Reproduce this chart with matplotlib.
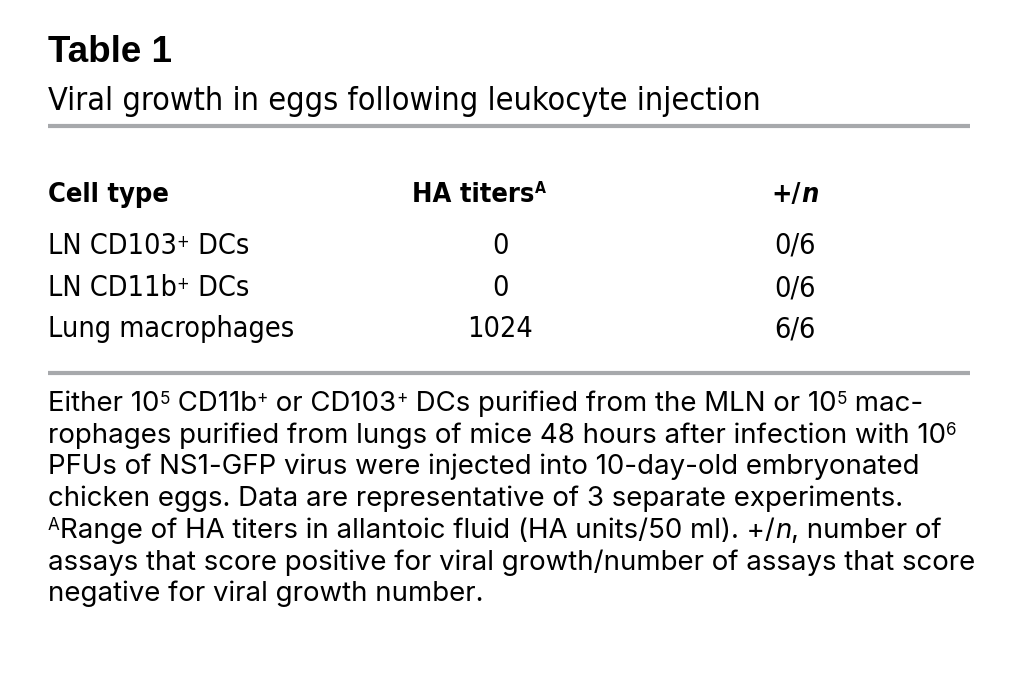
import matplotlib
matplotlib.use("Agg")
import matplotlib.pyplot as plt
from matplotlib.lines import Line2D
from matplotlib import font_manager
from matplotlib.font_manager import FontProperties

# ---- data ----
title = "Table 1"
subtitle = "Viral growth in eggs following leukocyte injection"
col_headers = ["Cell type", "HA titers", "+/"]
cell_base = ["LN CD103", "LN CD11b", "Lung macrophages"]
cell_sup = ["+", "+", ""]
cell_tail = [" DCs", " DCs", ""]
ha_titers = ["0", "0", "1024"]
pos_n = ["0/6", "0/6", "6/6"]
# footnote lines as runs: (text, kind) kind: n normal, s superscript, i italic
footnote_lines = [
    [("Either 10", "n"), ("5", "s"), (" CD11b", "n"), ("+", "s"), (" or CD103", "n"), ("+", "s"),
     (" DCs purified from the MLN or 10", "n"), ("5", "s"), (" mac-", "n")],
    [("rophages purified from lungs of mice 48 hours after infection with 10", "n"), ("6", "s")],
    [("PFUs of NS1-GFP virus were injected into 10-day-old embryonated", "n")],
    [("chicken eggs. Data are representative of 3 separate experiments.", "n")],
    [("A", "s"), ("Range of HA titers in allantoic fluid (HA units/50 ml). +/", "n"), ("n", "i"),
     (", number of", "n")],
    [("assays that score positive for viral growth/number of assays that score", "n")],
    [("negative for viral growth number.", "n")],
]

# ---- fonts ----
def find_condensed(weight_bold, italic=False):
    best = None
    for f in font_manager.fontManager.ttflist:
        tag = (f.name + " " + f.fname).lower()
        cond = ("condensed" in tag or "narrow" in tag or
                str(f.stretch) in ("condensed", "semi-condensed", "extra-condensed"))
        if not cond:
            continue
        w = f.weight if isinstance(f.weight, int) else (700 if "bold" in str(f.weight) else 400)
        is_bold = w >= 600
        is_it = f.style != "normal"
        if is_bold != weight_bold or is_it != italic:
            continue
        if "light" in tag or "black" in tag or "mono" in tag or "serif" in tag.replace("sans", ""):
            continue
        score = 0 if ("sans" in tag) else 1
        if best is None or score < best[0]:
            best = (score, f.fname)
    return best[1] if best else None


def fp_cond(size, bold=False, italic=False):
    path = find_condensed(bold, italic)
    if path:
        return FontProperties(fname=path, size=size)
    return FontProperties(family="Roboto", weight="bold" if bold else "normal",
                          style="italic" if italic else "normal", size=size * 0.93)


names = {f.name for f in font_manager.fontManager.ttflist}
FOOT_FAMILY = "Inter" if "Inter" in names else "Liberation Sans"

W, H = 1018, 682
fig = plt.figure(figsize=(W / 100, H / 100), dpi=100)
fig.patch.set_facecolor("white")
renderer = fig.canvas.get_renderer()


def fx(x):
    return x / W


def fy(y):
    return 1 - y / H


def width_px(s, fp):
    t1 = fig.text(0, 0, "X" + s + "X", fontproperties=fp)
    t2 = fig.text(0, 0, "XX", fontproperties=fp)
    w = t1.get_window_extent(renderer).width - t2.get_window_extent(renderer).width
    t1.remove()
    t2.remove()
    return w


def draw_runs(x, y, runs, ha="left"):
    """runs: list of (text, FontProperties, raise_px)"""
    widths = [width_px(s, fp) for s, fp, _ in runs]
    total = sum(widths)
    if ha == "center":
        x = x - total / 2
    elif ha == "right":
        x = x - total
    for (s, fp, dy), w in zip(runs, widths):
        fig.text(fx(x), fy(y - dy), s, fontproperties=fp, va="baseline", ha="left", color="black")
        x += w


# title + subtitle
fig.text(fx(48), fy(62), title, family="Liberation Sans", weight="bold", fontsize=26.5,
         va="baseline", color="black")
draw_runs(48, 110, [(subtitle, fp_cond(23.2), 0)])

# rules
for yy in (125.5, 373):
    fig.add_artist(Line2D([fx(48), fx(970)], [fy(yy), fy(yy)], color="#a7a9ac", lw=3.0,
                          solid_capstyle="butt"))

# table
S_HEAD = 19.5
S_ROW = 20.6
hb = fp_cond(S_HEAD, bold=True)
hb_sup = fp_cond(S_HEAD * 0.58, bold=True)
hbi = fp_cond(S_HEAD, bold=True, italic=True)
rn = fp_cond(S_ROW)
rn_sup = fp_cond(S_ROW * 0.58)

header_y = 202
draw_runs(48, header_y, [(col_headers[0], hb, 0)])
draw_runs(479, header_y, [(col_headers[1], hb, 0), ("A", hb_sup, 9)], ha="center")
draw_runs(795, header_y, [(col_headers[2], hb, 0), ("n", hbi, 0)], ha="center")

row_y = [254, 296, 337]
for i in range(len(cell_base)):
    runs = [(cell_base[i], rn, 0)]
    if cell_sup[i]:
        runs.append((cell_sup[i], rn_sup, 7))
    if cell_tail[i]:
        runs.append((cell_tail[i], rn, 0))
    draw_runs(48, row_y[i], runs)
    draw_runs(500, row_y[i], [(ha_titers[i], rn, 0)], ha="center")
    draw_runs(795, row_y[i], [(pos_n[i], rn, 0)], ha="center")

# footnote: font size chosen so that the first line spans the reference width
S_FOOT = 18.8
probe = "".join(s for s, _ in footnote_lines[0])
w_probe = width_px(probe, FontProperties(family=FOOT_FAMILY, size=S_FOOT))
S_FOOT = min(21.0, max(17.0, S_FOOT * 902.0 / max(w_probe, 1)))
fn = FontProperties(family=FOOT_FAMILY, size=S_FOOT)
fs = FontProperties(family=FOOT_FAMILY, size=S_FOOT * 0.62)
fi = FontProperties(family=FOOT_FAMILY, style="italic", size=S_FOOT)
kinds = {"n": (fn, 0), "s": (fs, 7.5), "i": (fi, 0)}
foot_y0, foot_dy = 411, 31.7
for k, line in enumerate(footnote_lines):
    runs = [(s, kinds[kd][0], kinds[kd][1]) for s, kd in line]
    draw_runs(48, foot_y0 + k * foot_dy, runs)

fig.savefig("out.png", dpi=100, facecolor="white")
